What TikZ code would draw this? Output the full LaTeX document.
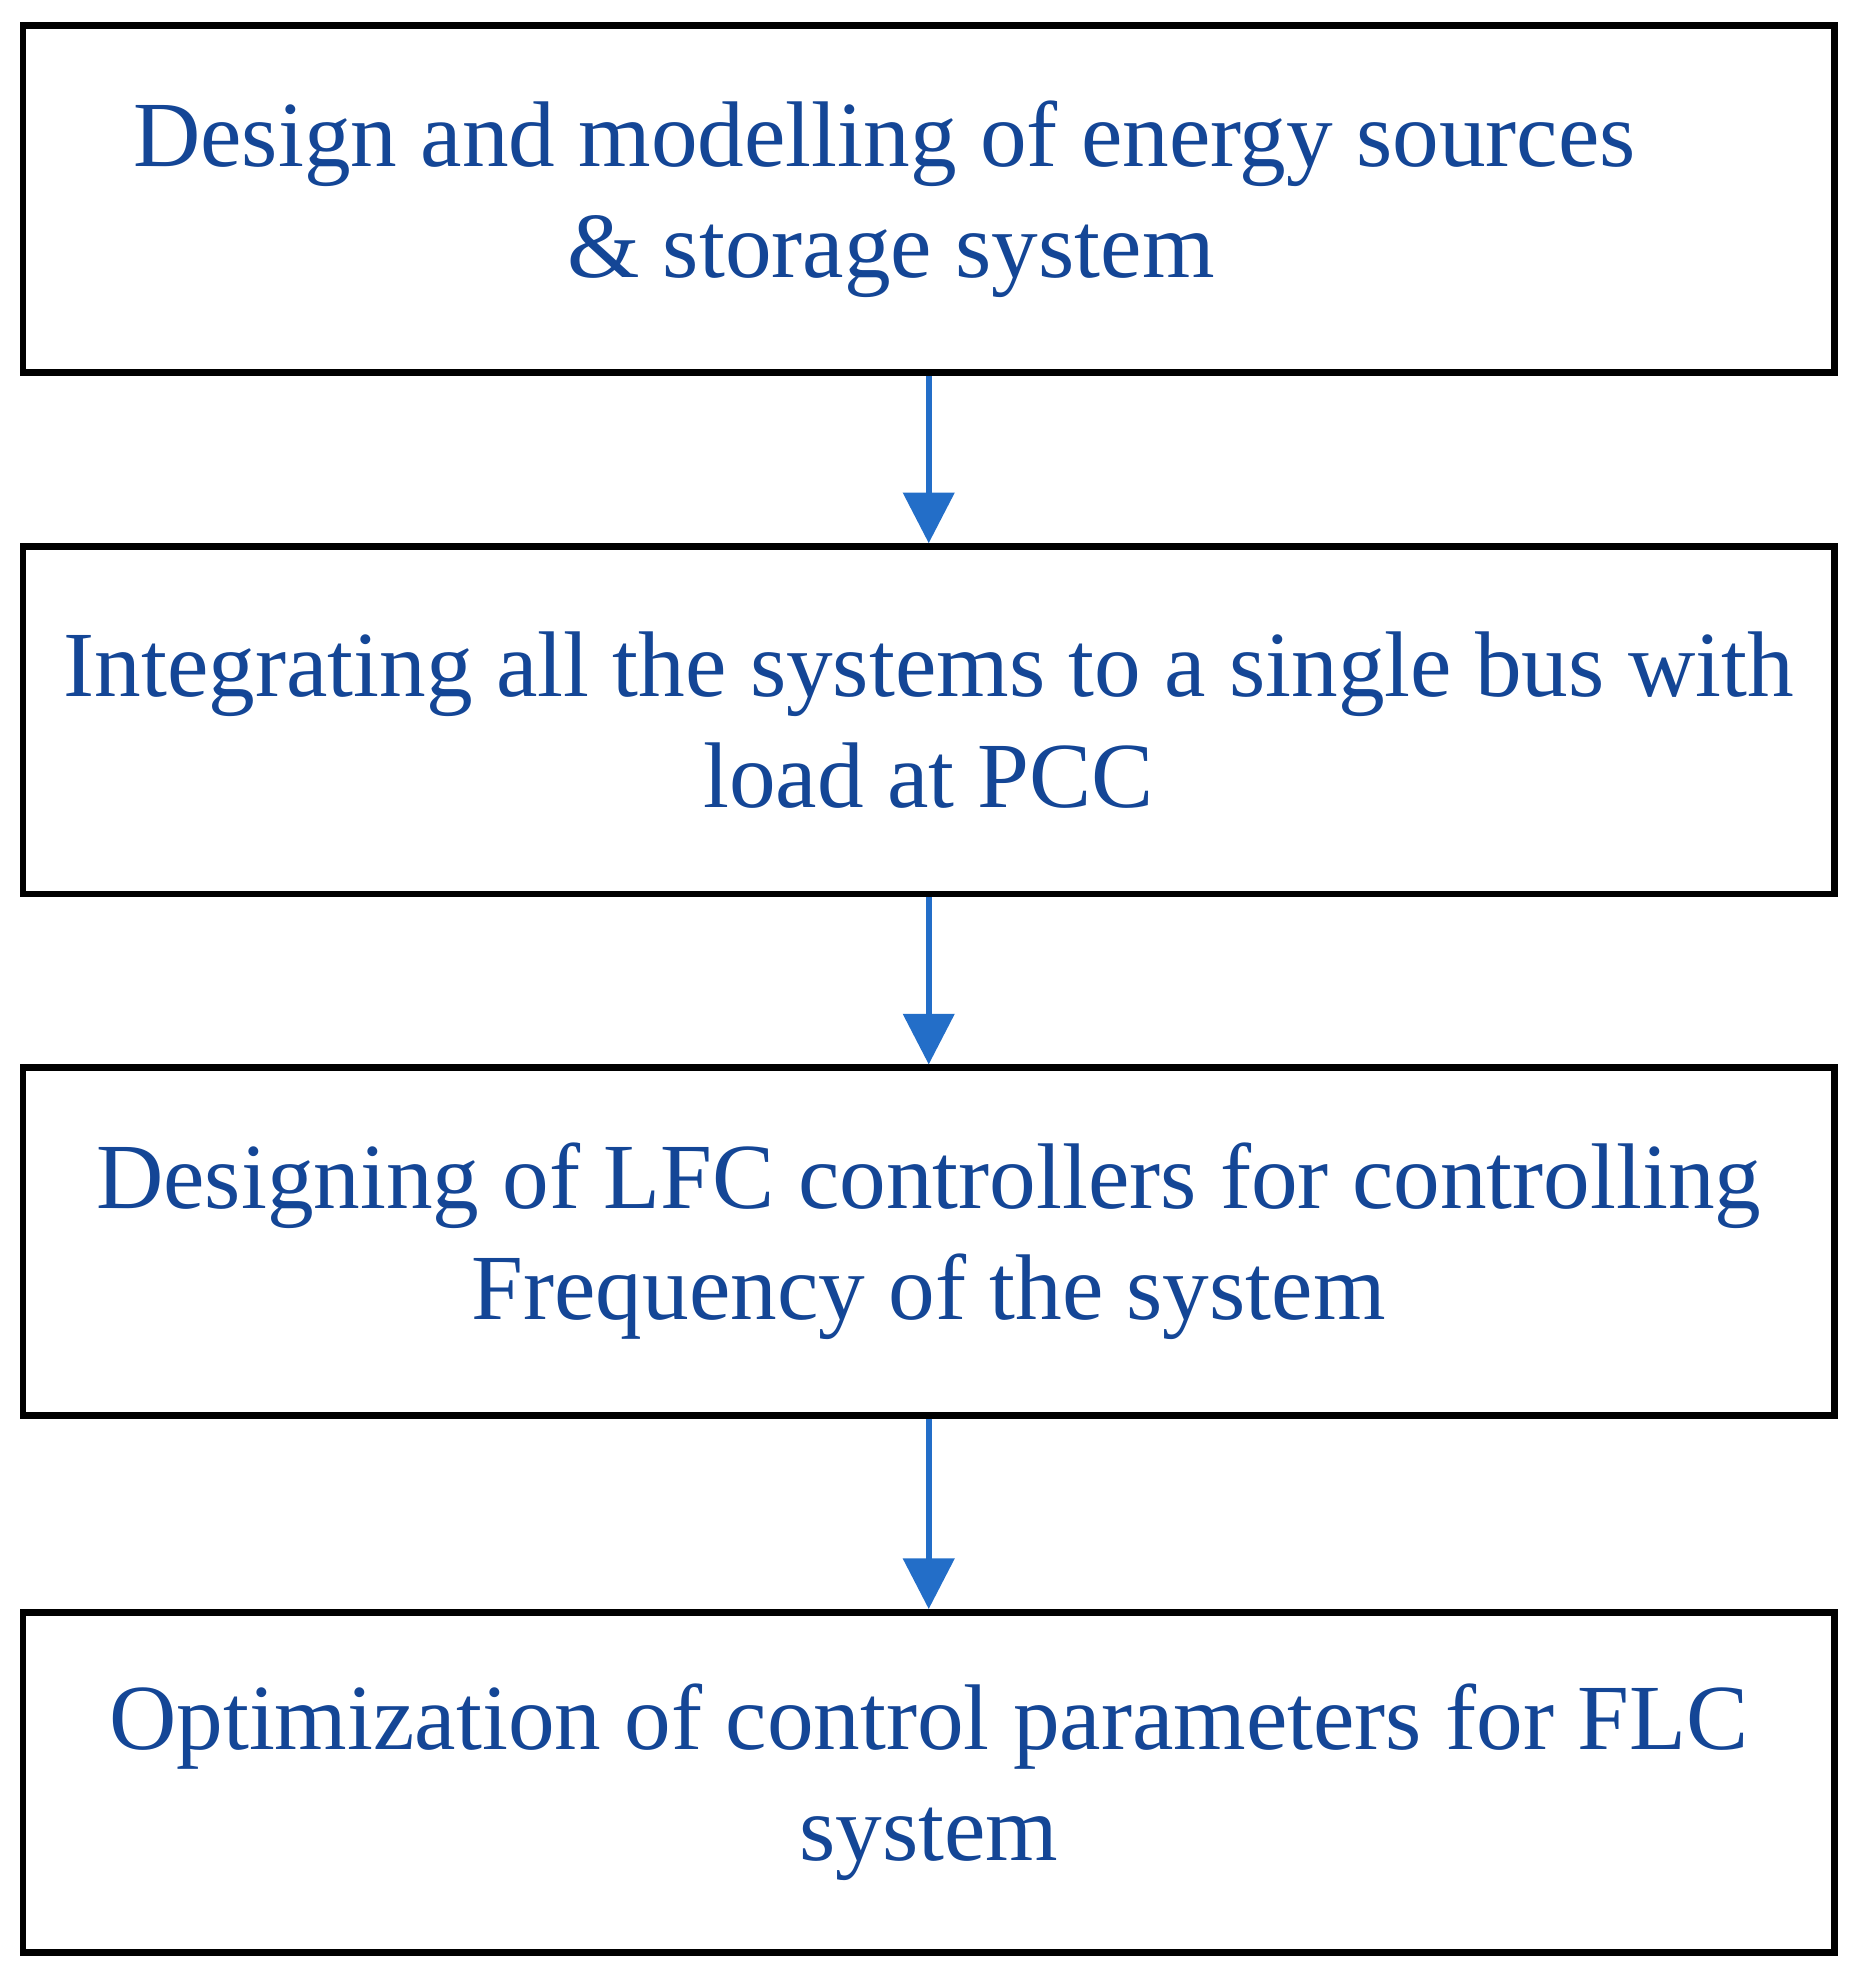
\documentclass[tikz,border=0pt]{standalone}
\usepackage{fontspec}
\setmainfont{Liberation Serif}
\usetikzlibrary{arrows.meta}
\definecolor{txtblue}{RGB}{20,70,150}
\definecolor{arrblue}{RGB}{35,110,200}
\begin{document}
\begin{tikzpicture}[x=0.02cm, y=-0.02cm,
    stage/.style={draw, line width=3pt, minimum width=28.68cm, minimum height=5.5cm,
        align=center, text=txtblue, font=\fontsize{42}{50}\selectfont},
    flow/.style={draw=arrblue, line width=2.6pt, -{Triangle[length=0.8cm, width=0.8cm]}}]
    \useasboundingbox (0,0) rectangle (1470,1567);
    % Schritte
    \node[stage] (s1) at (735, 157.5) {\hspace*{-1.4cm}Design and modelling of energy sources\\ \hspace*{-1.2cm}\& storage system};
    \node[stage] (s2) at (735, 570) {Integrating all the systems to a single bus with\\ load at PCC};
    \node[stage] (s3) at (735, 982.5) {Designing of LFC controllers for controlling\\ Frequency of the system};
    \node[stage, minimum height=5.38cm] (s4) at (735, 1410.5) {Optimization of control parameters for FLC\\ system};
    \draw[flow] (s1) -- (s2);
    \draw[flow] (s2) -- (s3);
    \draw[flow] (s3) -- (s4);
\end{tikzpicture}
\end{document}
